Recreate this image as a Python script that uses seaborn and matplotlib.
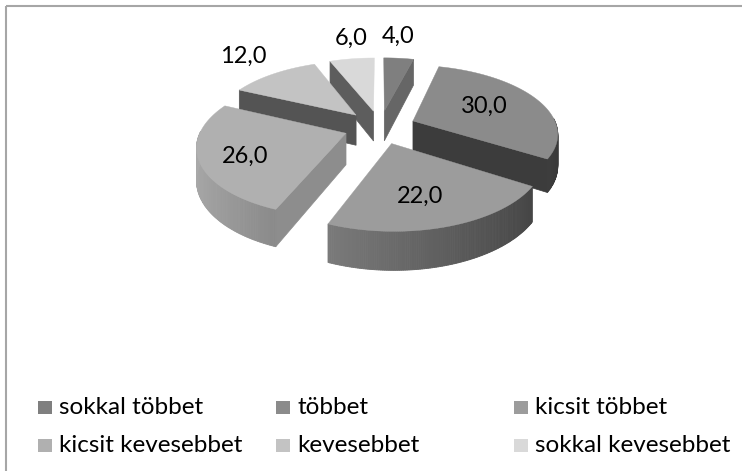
import numpy as np
import matplotlib
matplotlib.use('Agg')
import matplotlib.pyplot as plt
from matplotlib.patches import Rectangle
import seaborn as sns

# Adatok
categories = ['sokkal többet', 'többet', 'kicsit többet',
              'kicsit kevesebbet', 'kevesebbet', 'sokkal kevesebbet']
values = [4.0, 30.0, 22.0, 26.0, 12.0, 6.0]
value_labels = ['4,0', '30,0', '22,0', '26,0', '12,0', '6,0']

# Szürke árnyalatok a szeletekhez
colors = sns.color_palette(['#7f7f7f', '#8b8b8b', '#9c9c9c', '#b0b0b0', '#c3c3c3', '#d9d9d9'])

# Feliratok helye (pixel)
label_pos = [(398, 36), (484, 106), (420, 196), (245, 156), (243, 56), (351, 38)]

# Perspektíva paraméterei
X0, Y0 = 380, 127
A, B, K = 144, 66.9, 0.1666
DEPTH = 31
EXPLODE = 0.25

sns.set_theme(style='white')
plt.rcParams['font.family'] = ['Lato', 'DejaVu Sans']

fig = plt.figure(figsize=(7.42, 4.71), dpi=100)
ax = fig.add_axes([0, 0, 1, 1])


def project(u, v, z=0):
    w = 1 + K * v
    return X0 + A * u / w, Y0 - B * v / w + z * DEPTH / w


def shade(color, f):
    return tuple(min(1, c * f) for c in color)


# A pie adja a szeletek szögeit és eltolását, utána perspektívában rajzoljuk újra
wedges, _ = ax.pie(values, explode=[EXPLODE] * len(values), startangle=90,
                   counterclock=False, radius=1)
slices = []
for wedge, color, value in zip(wedges, colors, values):
    # matplotlib szög -> óramutató szerinti szög 12 órától
    t1 = 90 - wedge.theta2
    t2 = 90 - wedge.theta1
    cx, cy = wedge.center
    slices.append((cy, cx, t1, t2, color))
    wedge.remove()

ax.set_aspect('auto')
ax.set_xlim(0, 742)
ax.set_ylim(471, 0)
ax.axis('off')

# hátulról előre
for cy, cx, t1, t2, color in sorted(slices, key=lambda s: -s[0]):
    order = 10 - cy
    th = np.radians(np.linspace(t1, t2, 120))
    us = cx + np.sin(th)
    vs = cy + np.cos(th)

    # vágott oldalfalak
    for edge, normal in ((t1, t1 - 90), (t2, t2 + 90)):
        if np.cos(np.radians(normal)) < -1e-6:
            f = 0.8 if np.sin(np.radians(normal)) > 0 else 0.43
            eu = cx + np.sin(np.radians(edge))
            ev = cy + np.cos(np.radians(edge))
            pts = [project(cx, cy), project(eu, ev), project(eu, ev, 1), project(cx, cy, 1)]
            ax.fill([p[0] for p in pts], [p[1] for p in pts], color=shade(color, f),
                    lw=0.5, zorder=order)

    # külső ív, színátmenettel
    for i in range(len(th) - 1):
        mid = (th[i] + th[i + 1]) / 2
        if np.cos(mid) > 0.03:
            continue
        f = 0.68 - 0.28 * np.sin(mid)
        pts = [project(us[i], vs[i]), project(us[i + 1], vs[i + 1]),
               project(us[i + 1], vs[i + 1], 1), project(us[i], vs[i], 1)]
        ax.fill([p[0] for p in pts], [p[1] for p in pts], color=shade(color, f),
                lw=0.6, zorder=order)

    # felső lap
    top = [project(cx, cy)] + [project(u, v) for u, v in zip(us, vs)]
    ax.fill([p[0] for p in top], [p[1] for p in top], color=color, lw=0.3, zorder=order + 0.5)

# Adatfeliratok
for text, (x, y) in zip(value_labels, label_pos):
    ax.text(x, y, text, ha='center', va='center', fontsize=17, color='black', zorder=20)

# Jelmagyarázat
legend_x = [38, 276, 514]
legend_y = [407, 445]
for i, (name, color) in enumerate(zip(categories, colors)):
    x = legend_x[i % 3]
    y = legend_y[i // 3]
    ax.add_patch(Rectangle((x, y - 6.5), 14, 13, color=color, lw=0))
    ax.text(x + 21, y, name, ha='left', va='center', fontsize=17.5, color='black')

# Keret
ax.plot([6, 6], [471, 6], color='#a6a6a6', lw=1.5, solid_capstyle='butt')
ax.plot([6, 742], [6, 6], color='#a6a6a6', lw=1.5, solid_capstyle='butt')

fig.savefig('out.png', dpi=100)
